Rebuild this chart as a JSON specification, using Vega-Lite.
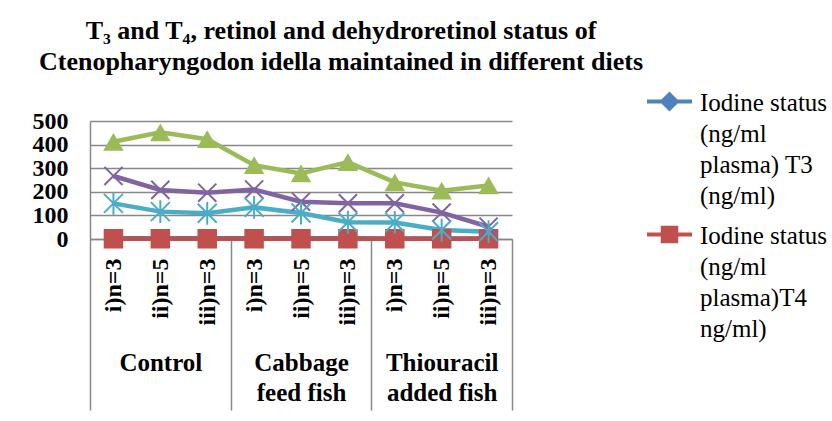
{
  "$schema": "https://vega.github.io/schema/vega-lite/v6.json",
  "width": 422,
  "height": 118,
  "autosize": {"type": "none"},
  "padding": {"left": 90, "top": 121, "right": 320, "bottom": 182},
  "background": "white",
  "config": {
    "font": "'Liberation Serif', 'Times New Roman', Times, serif",
    "view": {"stroke": null},
    "title": {"font": "'Liberation Serif', 'Times New Roman', Times, serif"},
    "axisY": {
      "tickCount": 5,
      "grid": true,
      "gridColor": "#888888",
      "gridWidth": 1.5,
      "domain": true,
      "domainColor": "#888888",
      "domainWidth": 1.5,
      "ticks": false,
      "labelPadding": 22,
      "labelOverlap": false,
      "labelFlush": false,
      "labelFontSize": 24,
      "labelFontWeight": "bold",
      "labelColor": "black"
    }
  },
  "title": {
    "text": ["T₃ and T₄, retinol and dehydroretinol status of", "Ctenopharyngodon idella maintained in different diets"],
    "font": "'Liberation Serif', 'Times New Roman', Times, serif",
    "fontSize": 26,
    "fontWeight": "bold",
    "color": "black",
    "anchor": "middle",
    "frame": "group",
    "dx": 40,
    "offset": 2,
    "lineHeight": 31
  },
  "data": {
    "values": [
      {"series": "Iodine status\n(ng/ml\nplasma) T3\n(ng/ml)", "group": "Control", "cat": "Control|i)n=3", "value": 3},
      {"series": "Iodine status\n(ng/ml\nplasma) T3\n(ng/ml)", "group": "Control", "cat": "Control|ii)n=5", "value": 3},
      {"series": "Iodine status\n(ng/ml\nplasma) T3\n(ng/ml)", "group": "Control", "cat": "Control|iii)n=3", "value": 3},
      {"series": "Iodine status\n(ng/ml\nplasma) T3\n(ng/ml)", "group": "Cabbage\nfeed fish", "cat": "Cabbage|i)n=3", "value": 3},
      {"series": "Iodine status\n(ng/ml\nplasma) T3\n(ng/ml)", "group": "Cabbage\nfeed fish", "cat": "Cabbage|ii)n=5", "value": 3},
      {"series": "Iodine status\n(ng/ml\nplasma) T3\n(ng/ml)", "group": "Cabbage\nfeed fish", "cat": "Cabbage|iii)n=3", "value": 3},
      {"series": "Iodine status\n(ng/ml\nplasma) T3\n(ng/ml)", "group": "Thiouracil\nadded fish", "cat": "Thiouracil|i)n=3", "value": 2},
      {"series": "Iodine status\n(ng/ml\nplasma) T3\n(ng/ml)", "group": "Thiouracil\nadded fish", "cat": "Thiouracil|ii)n=5", "value": 2},
      {"series": "Iodine status\n(ng/ml\nplasma) T3\n(ng/ml)", "group": "Thiouracil\nadded fish", "cat": "Thiouracil|iii)n=3", "value": 2},

      {"series": "Iodine status\n(ng/ml\nplasma)T4\nng/ml)", "group": "Control", "cat": "Control|i)n=3", "value": 1},
      {"series": "Iodine status\n(ng/ml\nplasma)T4\nng/ml)", "group": "Control", "cat": "Control|ii)n=5", "value": 1},
      {"series": "Iodine status\n(ng/ml\nplasma)T4\nng/ml)", "group": "Control", "cat": "Control|iii)n=3", "value": 1},
      {"series": "Iodine status\n(ng/ml\nplasma)T4\nng/ml)", "group": "Cabbage\nfeed fish", "cat": "Cabbage|i)n=3", "value": 1},
      {"series": "Iodine status\n(ng/ml\nplasma)T4\nng/ml)", "group": "Cabbage\nfeed fish", "cat": "Cabbage|ii)n=5", "value": 1},
      {"series": "Iodine status\n(ng/ml\nplasma)T4\nng/ml)", "group": "Cabbage\nfeed fish", "cat": "Cabbage|iii)n=3", "value": 1},
      {"series": "Iodine status\n(ng/ml\nplasma)T4\nng/ml)", "group": "Thiouracil\nadded fish", "cat": "Thiouracil|i)n=3", "value": 1},
      {"series": "Iodine status\n(ng/ml\nplasma)T4\nng/ml)", "group": "Thiouracil\nadded fish", "cat": "Thiouracil|ii)n=5", "value": 1},
      {"series": "Iodine status\n(ng/ml\nplasma)T4\nng/ml)", "group": "Thiouracil\nadded fish", "cat": "Thiouracil|iii)n=3", "value": 1},

      {"series": "Retinol", "group": "Control", "cat": "Control|i)n=3", "value": 412},
      {"series": "Retinol", "group": "Control", "cat": "Control|ii)n=5", "value": 452},
      {"series": "Retinol", "group": "Control", "cat": "Control|iii)n=3", "value": 423},
      {"series": "Retinol", "group": "Cabbage\nfeed fish", "cat": "Cabbage|i)n=3", "value": 313},
      {"series": "Retinol", "group": "Cabbage\nfeed fish", "cat": "Cabbage|ii)n=5", "value": 278},
      {"series": "Retinol", "group": "Cabbage\nfeed fish", "cat": "Cabbage|iii)n=3", "value": 326},
      {"series": "Retinol", "group": "Thiouracil\nadded fish", "cat": "Thiouracil|i)n=3", "value": 240},
      {"series": "Retinol", "group": "Thiouracil\nadded fish", "cat": "Thiouracil|ii)n=5", "value": 205},
      {"series": "Retinol", "group": "Thiouracil\nadded fish", "cat": "Thiouracil|iii)n=3", "value": 227},

      {"series": "Dehydroretinol", "group": "Control", "cat": "Control|i)n=3", "value": 267},
      {"series": "Dehydroretinol", "group": "Control", "cat": "Control|ii)n=5", "value": 208},
      {"series": "Dehydroretinol", "group": "Control", "cat": "Control|iii)n=3", "value": 196},
      {"series": "Dehydroretinol", "group": "Cabbage\nfeed fish", "cat": "Cabbage|i)n=3", "value": 210},
      {"series": "Dehydroretinol", "group": "Cabbage\nfeed fish", "cat": "Cabbage|ii)n=5", "value": 158},
      {"series": "Dehydroretinol", "group": "Cabbage\nfeed fish", "cat": "Cabbage|iii)n=3", "value": 151},
      {"series": "Dehydroretinol", "group": "Thiouracil\nadded fish", "cat": "Thiouracil|i)n=3", "value": 151},
      {"series": "Dehydroretinol", "group": "Thiouracil\nadded fish", "cat": "Thiouracil|ii)n=5", "value": 112},
      {"series": "Dehydroretinol", "group": "Thiouracil\nadded fish", "cat": "Thiouracil|iii)n=3", "value": 52},

      {"series": "Series 5", "group": "Control", "cat": "Control|i)n=3", "value": 151},
      {"series": "Series 5", "group": "Control", "cat": "Control|ii)n=5", "value": 116},
      {"series": "Series 5", "group": "Control", "cat": "Control|iii)n=3", "value": 109},
      {"series": "Series 5", "group": "Cabbage\nfeed fish", "cat": "Cabbage|i)n=3", "value": 134},
      {"series": "Series 5", "group": "Cabbage\nfeed fish", "cat": "Cabbage|ii)n=5", "value": 110},
      {"series": "Series 5", "group": "Cabbage\nfeed fish", "cat": "Cabbage|iii)n=3", "value": 71},
      {"series": "Series 5", "group": "Thiouracil\nadded fish", "cat": "Thiouracil|i)n=3", "value": 70},
      {"series": "Series 5", "group": "Thiouracil\nadded fish", "cat": "Thiouracil|ii)n=5", "value": 38},
      {"series": "Series 5", "group": "Thiouracil\nadded fish", "cat": "Thiouracil|iii)n=3", "value": 31}
    ]
  },
  "layer": [
    {
      "mark": {"type": "bar", "opacity": 0},
      "encoding": {
        "x": {
          "field": "group",
          "type": "nominal",
          "sort": null,
          "scale": {"type": "band", "paddingInner": 0, "paddingOuter": 0},
          "axis": {
            "orient": "bottom",
            "title": null,
            "domain": false,
            "grid": false,
            "ticks": true,
            "tickBand": "extent",
            "tickSize": 171,
            "tickColor": "#888888",
            "tickWidth": 1.5,
            "labelPadding": -60,
            "labelAngle": 0,
            "labelAlign": "center",
            "labelBaseline": "top",
            "labelFontSize": 25,
            "labelFontWeight": "bold",
            "labelColor": "black",
            "labelLineHeight": 30,
            "labelLimit": 300,
            "labelExpr": "split(datum.label, '\\n')"
          }
        }
      }
    },
    {
      "mark": {"type": "line", "strokeWidth": 4.5},
      "encoding": {
        "x": {
          "field": "cat",
          "type": "nominal",
          "sort": null,
          "axis": {
            "orient": "bottom",
            "title": null,
            "grid": false,
            "domain": true,
            "domainColor": "#888888",
            "domainWidth": 1.5,
            "ticks": false,
            "labelAngle": -90,
            "labelAlign": "right",
            "labelBaseline": "middle",
            "labelPadding": 19,
            "labelFontSize": 24,
            "labelFontWeight": "bold",
            "labelColor": "black",
            "labelExpr": "split(datum.label, '|')[1]"
          }
        },
        "y": {
          "field": "value",
          "type": "quantitative",
          "title": null,
          "scale": {"domain": [0, 500], "nice": false}
        },
        "color": {
          "field": "series",
          "type": "nominal",
          "scale": {
            "domain": ["Iodine status\n(ng/ml\nplasma) T3\n(ng/ml)", "Iodine status\n(ng/ml\nplasma)T4\nng/ml)", "Retinol", "Dehydroretinol", "Series 5"],
            "range": ["#4F81BD", "#C0504D", "#9BBB59", "#8064A2", "#4BACC6"]
          },
          "legend": {
            "title": null,
            "orient": "none",
            "legendX": 555,
            "legendY": -44,
            "values": ["Iodine status\n(ng/ml\nplasma) T3\n(ng/ml)", "Iodine status\n(ng/ml\nplasma)T4\nng/ml)"],
            "labelExpr": "split(datum.label, '\\n')",
            "labelFontSize": 25,
            "labelColor": "black",
            "labelLimit": 400,
            "labelOffset": 6,
            "rowPadding": 1,
            "symbolSize": 2025,
            "symbolStrokeWidth": 4,
            "encode": {
              "symbols": {
                "update": {
                  "shape": {"signal": "indexof(datum.value, 'T3') >= 0 ? 'M-1,0H1M0,-0.32L0.32,0L0,0.32L-0.32,0Z' : 'M-1,0H1M-0.3,-0.3H0.3V0.3H-0.3Z'"},
                  "fill": {"signal": "indexof(datum.value, 'T3') >= 0 ? '#4F81BD' : '#C0504D'"},
                  "stroke": {"signal": "indexof(datum.value, 'T3') >= 0 ? '#4F81BD' : '#C0504D'"},
                  "opacity": {"value": 1}
                }
              },
              "labels": {
                "update": {
                  "lineHeight": {"value": 31},
                  "baseline": {"value": "top"},
                  "dy": {"value": -11}
                }
              }
            }
          }
        }
      }
    },
    {
      "transform": [{"filter": "indexof(datum.series, 'T3') >= 0"}],
      "mark": {"type": "point", "shape": "diamond", "filled": true, "size": 300, "strokeWidth": 2, "opacity": 1, "color": "#4F81BD"},
      "encoding": {
        "x": {"field": "cat", "type": "nominal", "sort": null, "axis": null},
        "y": {"field": "value", "type": "quantitative", "title": null, "scale": {"domain": [0, 500], "nice": false}}
      }
    },
    {
      "transform": [{"filter": "indexof(datum.series, 'T4') >= 0"}],
      "mark": {"type": "point", "shape": "square", "filled": true, "size": 380, "opacity": 1, "color": "#C0504D"},
      "encoding": {
        "x": {"field": "cat", "type": "nominal", "sort": null, "axis": null},
        "y": {"field": "value", "type": "quantitative", "title": null, "scale": {"domain": [0, 500], "nice": false}}
      }
    },
    {
      "transform": [{"filter": "datum.series == 'Retinol'"}],
      "mark": {"type": "point", "shape": "triangle-up", "filled": true, "size": 420, "opacity": 1, "color": "#9BBB59"},
      "encoding": {
        "x": {"field": "cat", "type": "nominal", "sort": null, "axis": null},
        "y": {"field": "value", "type": "quantitative", "title": null, "scale": {"domain": [0, 500], "nice": false}}
      }
    },
    {
      "transform": [{"filter": "datum.series == 'Dehydroretinol'"}],
      "mark": {"type": "point", "shape": "M-1,-1L1,1M-1,1L1,-1", "filled": false, "size": 330, "strokeWidth": 2, "opacity": 1, "color": "#8064A2"},
      "encoding": {
        "x": {"field": "cat", "type": "nominal", "sort": null, "axis": null},
        "y": {"field": "value", "type": "quantitative", "title": null, "scale": {"domain": [0, 500], "nice": false}}
      }
    },
    {
      "transform": [{"filter": "datum.series == 'Series 5'"}],
      "mark": {"type": "point", "shape": "M-1,-1L1,1M-1,1L1,-1M0,-1.2L0,1.2", "filled": false, "size": 360, "strokeWidth": 2, "opacity": 1, "color": "#4BACC6"},
      "encoding": {
        "x": {"field": "cat", "type": "nominal", "sort": null, "axis": null},
        "y": {"field": "value", "type": "quantitative", "title": null, "scale": {"domain": [0, 500], "nice": false}}
      }
    }
  ],
  "resolve": {"scale": {"x": "independent"}, "axis": {"x": "independent"}}
}
